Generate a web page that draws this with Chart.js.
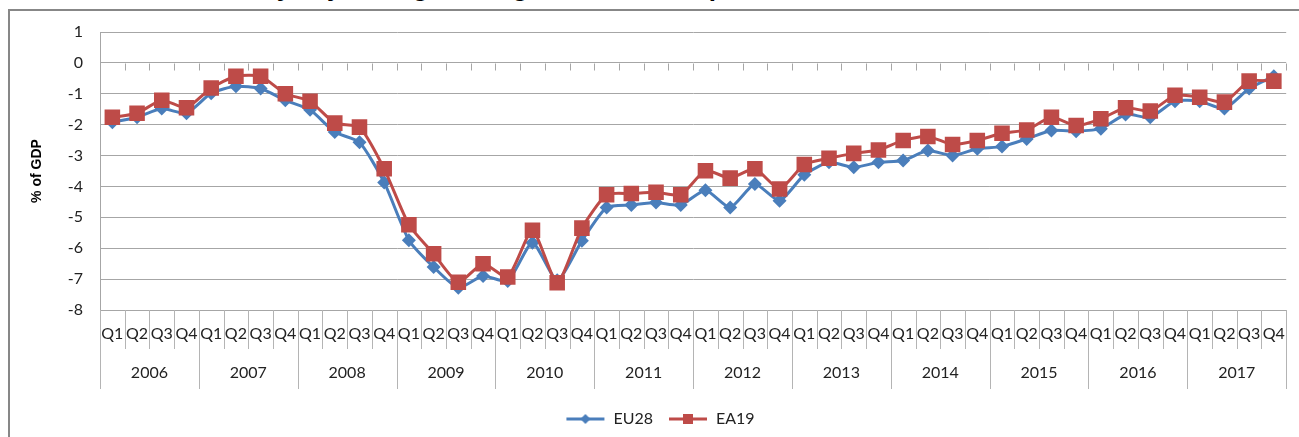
<!DOCTYPE html>
<html>
<head>
<meta charset="utf-8">
<script src="https://cdn.jsdelivr.net/npm/chart.js@4/dist/chart.umd.min.js"></script>
<style>
  html, body { margin: 0; padding: 0; background: #fff; overflow: hidden; }
  body { width: 1299px; height: 437px; position: relative; }
  #title {
    position: absolute; left: 0; top: -26px; width: 1299px;
    text-align: center; font: bold 26px "Liberation Sans", Arial, sans-serif;
    line-height: 26px; color: #000; white-space: nowrap;
  }
  #frame {
    position: absolute; left: 8px; top: 9px; width: 1400px; height: 600px;
    border: 2px solid #878787;
  }
  #wrap { position: absolute; left: 0; top: 0; width: 1299px; height: 437px; }
</style>
</head>
<body>
<div id="title">Seasonally adjusted general government surplus/deficit in the euro area and EU</div>
<div id="frame"></div>
<div id="wrap"><canvas id="chart"></canvas></div>
<script>
// quarterly data, % of GDP
const years = ['2006', '2007', '2008', '2009', '2010', '2011', '2012', '2013', '2014', '2015', '2016', '2017'];
const quarters = ['Q1', 'Q2', 'Q3', 'Q4'];

const eu28 = [
  -1.92, -1.76, -1.48, -1.63,
  -0.98, -0.76, -0.83, -1.21,
  -1.52, -2.24, -2.57, -3.87,
  -5.74, -6.61, -7.28, -6.90,
  -7.06, -5.82, -7.04, -5.76,
  -4.68, -4.60, -4.52, -4.60,
  -4.12, -4.68, -3.92, -4.46,
  -3.62, -3.22, -3.38, -3.22,
  -3.16, -2.84, -3.00, -2.78,
  -2.71, -2.46, -2.19, -2.21,
  -2.13, -1.67, -1.76, -1.24,
  -1.24, -1.48, -0.83, -0.43
];

const ea19 = [
  -1.76, -1.63, -1.21, -1.45,
  -0.81, -0.43, -0.43, -1.00,
  -1.24, -1.95, -2.08, -3.43,
  -5.24, -6.18, -7.10, -6.50,
  -6.93, -5.42, -7.12, -5.35,
  -4.27, -4.23, -4.19, -4.27,
  -3.49, -3.73, -3.43, -4.08,
  -3.29, -3.09, -2.93, -2.82,
  -2.51, -2.38, -2.64, -2.51,
  -2.28, -2.17, -1.76, -2.03,
  -1.81, -1.45, -1.56, -1.05,
  -1.11, -1.27, -0.59, -0.59
];

const labels = years.flatMap(() => quarters);

const BLUE = '#4a7ebb';
const RED = '#be4b48';
const GRID = '#a6a6a6';
const SEP = '#b4b4b4';
const FONT = 'Lato, "Open Sans", sans-serif';

// legend icon: line with the marker in the middle
function legendIcon(color, shape) {
  const c = document.createElement('canvas');
  c.width = 40; c.height = 14;
  const g = c.getContext('2d');
  g.strokeStyle = color; g.fillStyle = color; g.lineWidth = 3;
  g.beginPath(); g.moveTo(1, 7); g.lineTo(39, 7); g.stroke();
  g.beginPath();
  if (shape === 'diamond') {
    g.moveTo(20, 2); g.lineTo(25, 7); g.lineTo(20, 12); g.lineTo(15, 7);
  } else {
    g.rect(15, 2, 10, 10);
  }
  g.fill();
  return c;
}

// Excel style category axis: tick marks on the zero line, Q boxes, year row, axis title
const axisDecor = {
  id: 'axisDecor',
  beforeDatasetsDraw(chart) {
    const { ctx, scales: { x, y } } = chart;
    const w = (x.right - x.left) / labels.length;
    const y0 = Math.round(y.getPixelForValue(0)) + 0.5;
    ctx.save();
    ctx.strokeStyle = GRID;
    ctx.lineWidth = 1;
    ctx.beginPath();
    for (let i = 0; i <= labels.length; i++) {
      const px = Math.round(x.left + i * w) + 0.5;
      ctx.moveTo(px, y0);
      ctx.lineTo(px, y0 + 7);
    }
    ctx.stroke();
    ctx.restore();
  },
  afterDraw(chart) {
    const { ctx, scales: { x, y } } = chart;
    const w = (x.right - x.left) / labels.length;
    const top = y.bottom;
    ctx.save();
    ctx.strokeStyle = SEP;
    ctx.lineWidth = 1;
    ctx.beginPath();
    for (let i = 0; i <= labels.length; i++) {
      const px = Math.round(x.left + i * w) + 0.5;
      ctx.moveTo(px, top);
      ctx.lineTo(px, top + (i % 4 === 0 ? 79 : 39));
    }
    ctx.stroke();

    ctx.fillStyle = '#222';
    ctx.font = '16px ' + FONT;
    ctx.textAlign = 'center';
    ctx.textBaseline = 'middle';
    years.forEach((yr, k) => {
      ctx.fillText(yr, x.left + (k * 4 + 2) * w, top + 63);
    });

    ctx.translate(37, (y.top + y.bottom) / 2);
    ctx.rotate(-Math.PI / 2);
    ctx.font = 'bold 14px "Liberation Sans", Arial, sans-serif';
    ctx.fillStyle = '#000';
    ctx.fillText('% of GDP', 0, 0);
    ctx.restore();
  }
};

new Chart(document.getElementById('chart'), {
  type: 'line',
  data: {
    labels: labels,
    datasets: [
      {
        label: 'EU28',
        data: eu28,
        borderColor: BLUE,
        backgroundColor: BLUE,
        borderWidth: 3,
        pointStyle: 'rectRot',
        pointRadius: 7,
        pointBorderWidth: 0,
        tension: 0.2,
        order: 1
      },
      {
        label: 'EA19',
        data: ea19,
        borderColor: RED,
        backgroundColor: RED,
        borderWidth: 3,
        pointStyle: 'rect',
        pointRadius: 11,
        pointBorderWidth: 0,
        tension: 0.2,
        order: 0
      }
    ]
  },
  options: {
    responsive: true,
    maintainAspectRatio: false,
    animation: false,
    layout: { padding: { left: 30, right: 9, top: 32, bottom: 0 } },
    plugins: {
      tooltip: { enabled: false },
      legend: {
        position: 'bottom',
        labels: {
          usePointStyle: true,
          pointStyleWidth: 40,
          boxHeight: 12,
          padding: 15,
          color: '#222',
          font: { family: FONT, size: 16 },
          sort: (a, b) => a.datasetIndex - b.datasetIndex,
          generateLabels: (chart) => chart.data.datasets.map((ds, i) => ({
            text: ds.label,
            datasetIndex: i,
            pointStyle: legendIcon(ds.borderColor, i === 0 ? 'diamond' : 'square'),
            fillStyle: ds.borderColor,
            strokeStyle: ds.borderColor,
            lineWidth: 0,
            fontColor: '#222',
            hidden: false
          }))
        }
      }
    },
    scales: {
      x: {
        offset: true,
        grid: { display: true, drawOnChartArea: false, drawTicks: false },
        border: { display: true, color: GRID },
        ticks: {
          autoSkip: false, maxRotation: 0, minRotation: 0, padding: 14,
          color: '#222', font: { family: FONT, size: 16 }
        },
        afterFit: (scale) => { scale.height = 86; }
      },
      y: {
        min: -8,
        max: 1,
        grid: { color: GRID, drawTicks: false },
        border: { display: true, color: GRID },
        ticks: {
          stepSize: 1, padding: 17,
          color: '#222', font: { family: FONT, size: 16 }
        },
        afterFit: (scale) => { scale.width = 70; }
      }
    }
  },
  plugins: [axisDecor]
});
</script>
</body>
</html>
